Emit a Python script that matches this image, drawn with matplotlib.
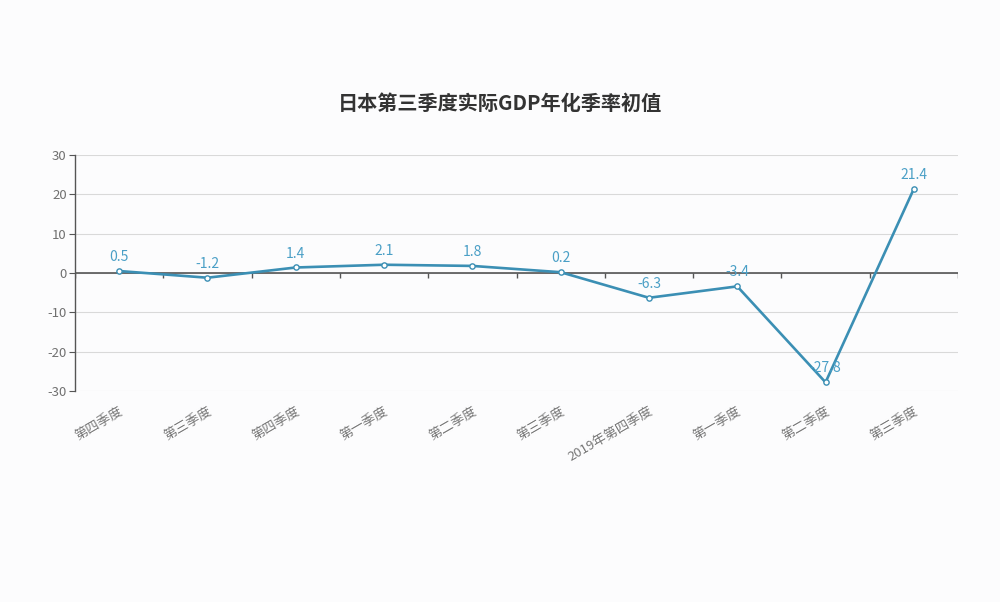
import matplotlib
matplotlib.use("Agg")
import matplotlib.pyplot as plt
import numpy as np

plt.rcParams['font.family'] = ['Noto Sans CJK SC', 'DejaVu Sans']

title = "日本第三季度实际GDP年化季率初值"
categories = ["第四季度", "第三季度", "第四季度", "第一季度", "第二季度",
              "第三季度", "2019年第四季度", "第一季度", "第二季度", "第三季度"]
values = [0.5, -1.2, 1.4, 2.1, 1.8, 0.2, -6.3, -3.4, -27.8, 21.4]
yticks = [-30, -20, -10, 0, 10, 20, 30]

line_color = "#3b8fb4"
label_color = "#4a9fc6"
bg = "#fcfcfd"

fig = plt.figure(figsize=(10, 6.02), dpi=100, facecolor=bg)
ax = fig.add_axes([0.075, 1 - 391 / 602, 0.883, (391 - 155) / 602], facecolor=bg)

x = np.arange(len(values))
ax.plot(x, values, color=line_color, lw=1.9, marker='o', ms=3.8,
        mfc='white', mec=line_color, mew=1, zorder=3)

for xi, v in zip(x, values):
    ax.annotate(f"{v:g}", (xi, v), xytext=(0, 5), textcoords='offset points',
                ha='center', va='bottom', fontsize=10, color=label_color, zorder=4)

ax.set_xlim(-0.5, len(values) - 0.5)
ax.set_ylim(-30, 30)
ax.set_yticks(yticks)
ax.set_yticklabels([str(t) for t in yticks], fontsize=9.5, color="#707070")
ax.grid(axis='y', color="#d9d9d9", lw=0.8)
ax.set_axisbelow(True)

for s in ['top', 'right', 'bottom']:
    ax.spines[s].set_visible(False)
ax.spines['left'].set_color("#555555")
ax.spines['left'].set_linewidth(1)
ax.tick_params(axis='y', length=4, color="#555555", pad=2)

# x axis line at zero with category boundary ticks
ax.axhline(0, color="#555555", lw=1.2, zorder=2)
ax.set_xticks([])
bounds = np.arange(-0.5, len(values), 1.0)
ax.vlines(bounds, -1.3, 0, color="#555555", lw=1, zorder=2)

# category labels under the plot
for xi, c in zip(x, categories):
    ax.text(xi, -33.5, c, rotation=30, rotation_mode='anchor',
            ha='right', va='top', fontsize=9.5, color="#777777", clip_on=False)

fig.text(0.5, 1 - 103 / 602, title, ha='center', va='center',
         fontsize=14.5, fontweight='bold', color="#333333")

fig.savefig("out.png", dpi=100, facecolor=bg)
